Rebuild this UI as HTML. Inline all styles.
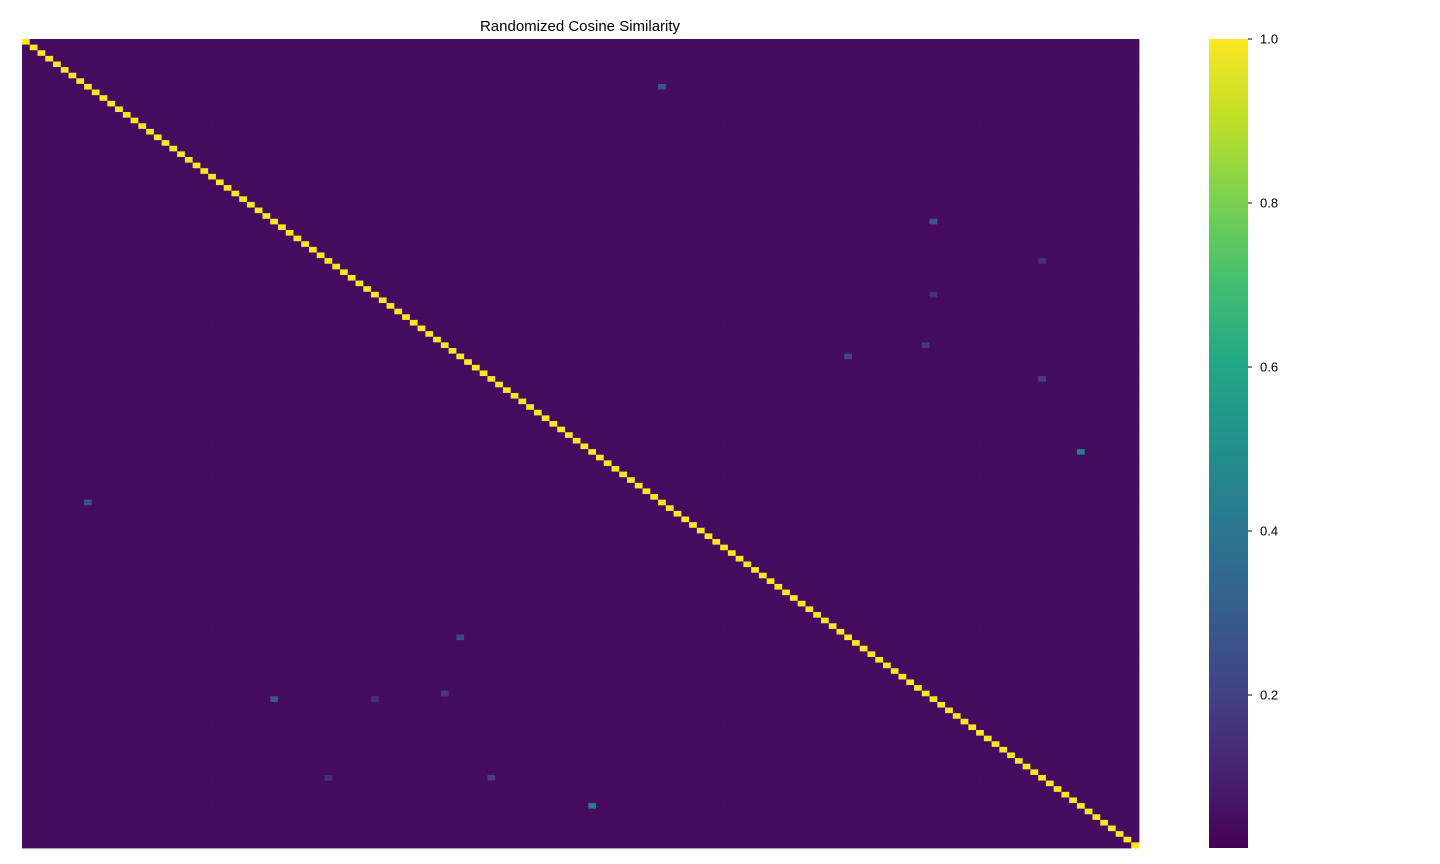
<!DOCTYPE html>
<html><head><meta charset="utf-8"><style>
html,body{margin:0;padding:0;background:#fff;width:1440px;height:864px;overflow:hidden}
svg{display:block;font-family:"Liberation Sans","DejaVu Sans",sans-serif}
</style></head><body>
<svg id="chart" width="1440" height="864">
<defs><linearGradient id="vir" x1="0" y1="1" x2="0" y2="0">
<stop offset="0" stop-color="#440154"/><stop offset="0.1" stop-color="#482475"/><stop offset="0.2" stop-color="#414487"/><stop offset="0.3" stop-color="#355f8d"/><stop offset="0.4" stop-color="#2a788e"/><stop offset="0.5" stop-color="#21918c"/><stop offset="0.6" stop-color="#22a884"/><stop offset="0.7" stop-color="#44bf70"/><stop offset="0.8" stop-color="#7ad151"/><stop offset="0.9" stop-color="#bddf26"/><stop offset="1" stop-color="#fde725"/>
</linearGradient></defs>
<text x="580" y="31" text-anchor="middle" font-size="15" fill="#000">Randomized Cosine Similarity</text>
<g id="cells"></g>
<rect x="1209" y="39" width="39" height="809" fill="url(#vir)"/>
<g id="cbticks"></g>
</svg>
<script>
const N = 144;
const baseValue = 0.045;
const diagValue = 1.0;
// symmetric notable off-diagonal cells: [row, col, value]
const pairRows = [8, 32, 73, 56, 54, 60, 39, 45];
const pairCols = [82, 117, 136, 106, 116, 131, 131, 117];
const pairVals = [0.27, 0.28, 0.42, 0.22, 0.18, 0.2, 0.15, 0.15];
const cbTicks = [0.2, 0.4, 0.6, 0.8, 1.0];
const cbLabels = ["0.2", "0.4", "0.6", "0.8", "1.0"];
const vmin = 0.0134, vmax = 1.0;

const X0 = 22, X1 = 1139, Y0 = 39, Y1 = 848;
const cw = (X1 - X0) / N, ch = (Y1 - Y0) / N;
const xOf = c => X0 + c * cw;
const yOf = r => Y0 + r * ch;
const stops = ["#440154","#482475","#414487","#355f8d","#2a788e","#21918c","#22a884","#44bf70","#7ad151","#bddf26","#fde725"];
function hex(h){return [1,3,5].map(i=>parseInt(h.substr(i,2),16));}
function viridis(v){
  let t = Math.max(0, Math.min(1, (v - vmin) / (vmax - vmin))) * 10;
  let i = Math.min(9, Math.floor(t)), f = t - i;
  const a = hex(stops[i]), b = hex(stops[i+1]);
  return "rgb(" + a.map((x,k)=>Math.round(x + (b[k]-x)*f)).join(",") + ")";
}
const M = [];
for (let r = 0; r < N; r++) { M.push(new Array(N).fill(baseValue)); M[r][r] = diagValue; }
for (let k = 0; k < pairRows.length; k++) {
  M[pairRows[k]][pairCols[k]] = pairVals[k];
  M[pairCols[k]][pairRows[k]] = pairVals[k];
}
const NS = "http://www.w3.org/2000/svg";
const g = document.getElementById("cells");
for (let r = 0; r < N; r++) for (let c = 0; c < N; c++) {
  const el = document.createElementNS(NS, "rect");
  el.setAttribute("x", xOf(c).toFixed(2));
  el.setAttribute("y", yOf(r).toFixed(2));
  el.setAttribute("width", (cw + 0.4).toFixed(2));
  el.setAttribute("height", (ch + 0.4).toFixed(2));
  el.setAttribute("fill", viridis(M[r][c]));
  
  
  g.appendChild(el);
}
const tg = document.getElementById("cbticks");
const cbY = v => Y1 - (v - vmin) / (vmax - vmin) * (Y1 - Y0);
cbTicks.forEach((v, i) => {
  const y = cbY(v);
  const ln = document.createElementNS(NS, "line");
  ln.setAttribute("x1", 1248); ln.setAttribute("x2", 1252);
  ln.setAttribute("y1", y); ln.setAttribute("y2", y);
  ln.setAttribute("stroke", "#000");
  
  
  tg.appendChild(ln);
  const t = document.createElementNS(NS, "text");
  t.setAttribute("x", 1260); t.setAttribute("y", y + 4.5);
  t.setAttribute("font-size", "13");
  t.textContent = cbLabels[i];
  
  
  tg.appendChild(t);
});
</script>
</body></html>
